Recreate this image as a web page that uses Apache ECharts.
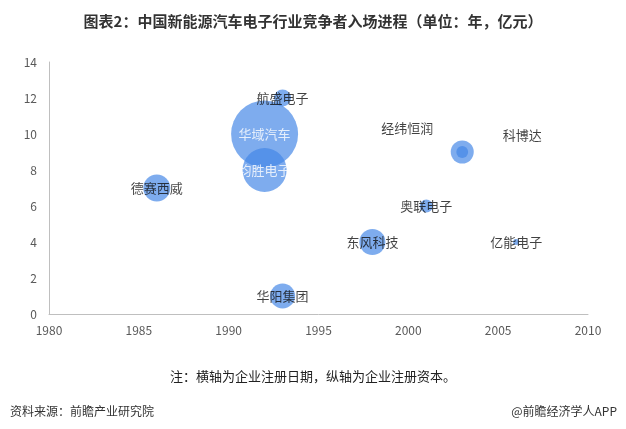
<!DOCTYPE html>
<html><head><meta charset="utf-8">
<script src="https://cdn.jsdelivr.net/npm/echarts@6/dist/echarts.min.js"></script>
<style>html,body{margin:0;padding:0;background:#fff;}#c{width:626px;height:429px;}</style>
</head><body><div id="c"></div>
<script>
const names = ['德赛西威','华域汽车','均胜电子','航盛电子','华阳集团','东风科技','奥联电子','科博达','经纬恒润','亿能电子'];
const years = [1986, 1992, 1992, 1993, 1993, 1998, 2001, 2003, 2003, 2006];
const capital = [7, 10, 8, 12, 1, 4, 6, 9, 9, 4];
const bubble = [7.3, 44.9, 19.4, 2.9, 6.3, 6.8, 1.7, 5.3, 1.4, 0.36];
const xTicks = [1980, 1985, 1990, 1995, 2000, 2005, 2010];
const yTicks = [0, 2, 4, 6, 8, 10, 12, 14];

const labelOffsets = {'科博达': [60, -17], '经纬恒润': [-55, -24]};
const whiteLabels = {'华域汽车': 1, '均胜电子': 1};
const font = '"Noto Sans CJK SC", sans-serif';

const data = names.map((n, i) => ({
  name: n,
  value: [years[i], capital[i], bubble[i]],
  label: {
    offset: labelOffsets[n] || [0, 0],
    color: whiteLabels[n] ? '#ffffff' : '#111111'
  }
}));

const chart = echarts.init(document.getElementById('c'));
chart.setOption({
  animation: false,
  textStyle: {fontFamily: font},
  title: [
    {text: '图表2：中国新能源汽车电子行业竞争者入场进程（单位：年，亿元）', left: 'center', top: 9,
     textStyle: {fontSize: 15, fontWeight: 'bold', color: '#333', fontFamily: font}},
    {text: '注：横轴为企业注册日期，纵轴为企业注册资本。', left: 'center', top: 365,
     textStyle: {fontSize: 13, fontWeight: 'normal', color: '#222', fontFamily: font}},
    {text: '资料来源：前瞻产业研究院', left: 5, top: 400,
     textStyle: {fontSize: 12, fontWeight: 'normal', color: '#333', fontFamily: font}},
    {text: '@前瞻经济学人APP', right: 4, top: 400,
     textStyle: {fontSize: 12, fontWeight: 'normal', color: '#333', fontFamily: font}}
  ],
  grid: {left: 49, right: 38, top: 62, bottom: 115},
  xAxis: {
    type: 'value', min: xTicks[0], max: xTicks[xTicks.length - 1], interval: 5,
    axisLine: {show: true, lineStyle: {color: '#bfbfbf'}},
    axisTick: {show: false}, splitLine: {show: false},
    axisLabel: {color: '#595959', fontSize: 12, margin: 10, fontFamily: font, formatter: v => String(v)}
  },
  yAxis: {
    type: 'value', min: yTicks[0], max: yTicks[yTicks.length - 1], interval: 2,
    axisLine: {show: true, lineStyle: {color: '#bfbfbf'}},
    axisTick: {show: false}, splitLine: {show: false},
    axisLabel: {color: '#595959', fontSize: 12, margin: 12, fontFamily: font, formatter: v => String(v)}
  },
  series: [{
    type: 'scatter',
    data: data,
    symbolSize: v => 10 * Math.sqrt(v[2]),
    itemStyle: {color: 'rgba(66,133,230,0.85)'},
    label: {show: true, position: 'inside', formatter: p => p.name, fontSize: 13, fontFamily: font}
  }]
});
</script></body></html>
